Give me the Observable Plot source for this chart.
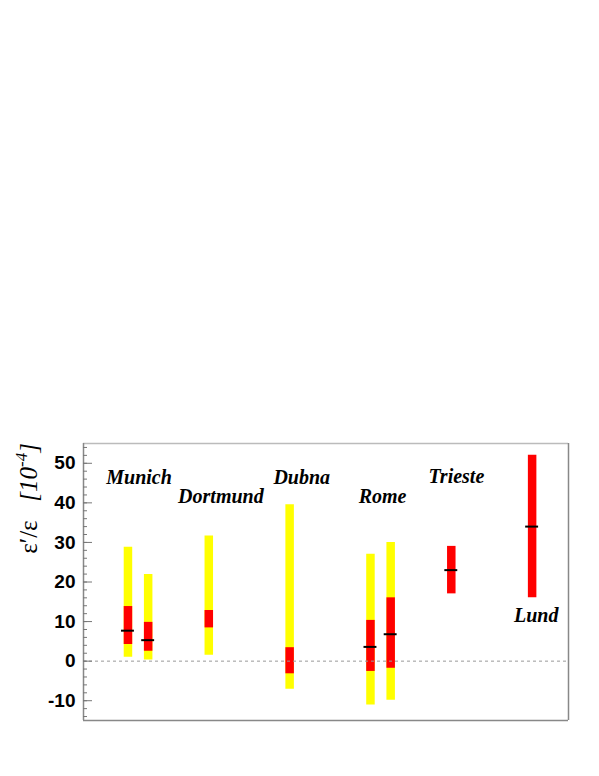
<!DOCTYPE html>
<html>
<head>
<meta charset="utf-8">
<script src="https://cdn.jsdelivr.net/npm/d3@7"></script>
<script src="https://cdn.jsdelivr.net/npm/@observablehq/plot@0.6"></script>
<style>
  html, body { margin: 0; padding: 0; background: #fff; }
  #chart svg { display: block; }
  .serif-label { font-family: "Liberation Serif", "Times New Roman", Times, serif; }
</style>
</head>
<body>
<div id="chart"></div>
<script>
// Measurements of epsilon'/epsilon [10^-4]
const barIds     = ["Munich A", "Munich B", "Dortmund", "Dubna", "Rome A", "Rome B", "Trieste", "Lund"];
const barPos     = [2, 3, 6, 10, 14, 15, 18, 22];
const totalLow   = [1.0, 0.3, 1.5, -7.1, -11.1, -9.9, null, null];
const totalHigh  = [28.8, 21.9, 31.6, 39.5, 27.0, 30.0, null, null];
const innerLow   = [4.2, 2.5, 8.4, -3.2, -2.6, -1.8, 17.0, 16.0];
const innerHigh  = [13.8, 9.8, 12.8, 3.4, 10.3, 16.0, 29.0, 52.0];
const central    = [7.7, 5.3, null, null, 3.6, 6.8, 23.0, 34.0];

const groupNames = ["Munich", "Dortmund", "Dubna", "Rome", "Trieste", "Lund"];
const groupPos   = [2.55, 6.6, 10.6, 14.6, 18.25, 22.2];
const groupVal   = [44.8, 40, 44.8, 40, 45, 10];

const majorTicks = [-10, 0, 10, 20, 30, 40, 50];
const minorTicks = d3.range(-14, 55, 2);

const bars = barIds.map((id, i) => ({
  id, pos: barPos[i],
  tLo: totalLow[i], tHi: totalHigh[i],
  iLo: innerLow[i], iHi: innerHigh[i],
  c: central[i]
}));
const labels = groupNames.map((name, i) => ({name, pos: groupPos[i], v: groupVal[i]}));

const serif = "Liberation Serif";

const chart = Plot.plot({
  width: 599,
  height: 776,
  marginTop: 443,
  marginBottom: 56,
  marginLeft: 83,
  marginRight: 31,
  style: {fontFamily: "Liberation Sans", background: "#fff"},
  x: {domain: [-0.2, 23.8], axis: null},
  y: {domain: [-15, 55], axis: null},
  marks: [
    Plot.ruleX(bars.filter(d => d.tLo != null), {x: "pos", y1: "tLo", y2: "tHi", stroke: "#ffff00", strokeWidth: 8.5}),
    Plot.ruleX(bars, {x: "pos", y1: "iLo", y2: "iHi", stroke: "#ff0000", strokeWidth: 8.5}),
    Plot.ruleY([0], {stroke: "#999", strokeDasharray: "3,3", strokeWidth: 1}),
    Plot.ruleY(bars.filter(d => d.c != null), {y: "c", x1: d => d.pos - 0.32, x2: d => d.pos + 0.32, stroke: "#000", strokeWidth: 2}),
    Plot.text(labels, {
      x: "pos", y: "v", text: "name",
      fontFamily: serif,
      fontWeight: "bold", fontStyle: "italic", fontSize: 20,
      textAnchor: "middle", lineAnchor: "bottom", fill: "#000"
    }),
    // frame
    Plot.ruleY([55], {stroke: "#bbb", strokeWidth: 1.5}),
    Plot.ruleX([-0.2], {stroke: "#888", strokeWidth: 1.5}),
    Plot.ruleY([-15], {stroke: "#888", strokeWidth: 1.5}),
    Plot.ruleX([23.8], {stroke: "#888", strokeWidth: 1.5}),
    // ticks (inward)
    Plot.axisY(minorTicks, {tickSize: 4, dx: 4, text: null, stroke: "#777", label: null}),
    Plot.axisY(majorTicks, {tickSize: 9, dx: 9, text: null, stroke: "#777", label: null}),
    Plot.axisY(majorTicks, {tickSize: 0, tickPadding: 8, fontSize: 19, fontWeight: "bold", fill: "#000", label: null, tickFormat: d => String(d)})
  ]
});

document.getElementById("chart").appendChild(chart);

// Y-axis title
const svg = d3.select(chart);
const t = svg.append("text")
  .attr("class", "serif-label")
  .attr("transform", "translate(37,443) rotate(-90)")
  .attr("text-anchor", "end")
  .style("font-family", "'Liberation Serif', serif")
  .attr("font-size", 25)
  .attr("fill", "#000");
t.append("tspan").text("ε′/ε   ");
t.append("tspan").attr("font-style", "italic").text("[10");
t.append("tspan").attr("font-style", "italic").attr("font-size", 17).attr("dy", -10).text("-4");
t.append("tspan").attr("font-style", "italic").attr("dy", 10).text("]");
</script>
</body>
</html>
